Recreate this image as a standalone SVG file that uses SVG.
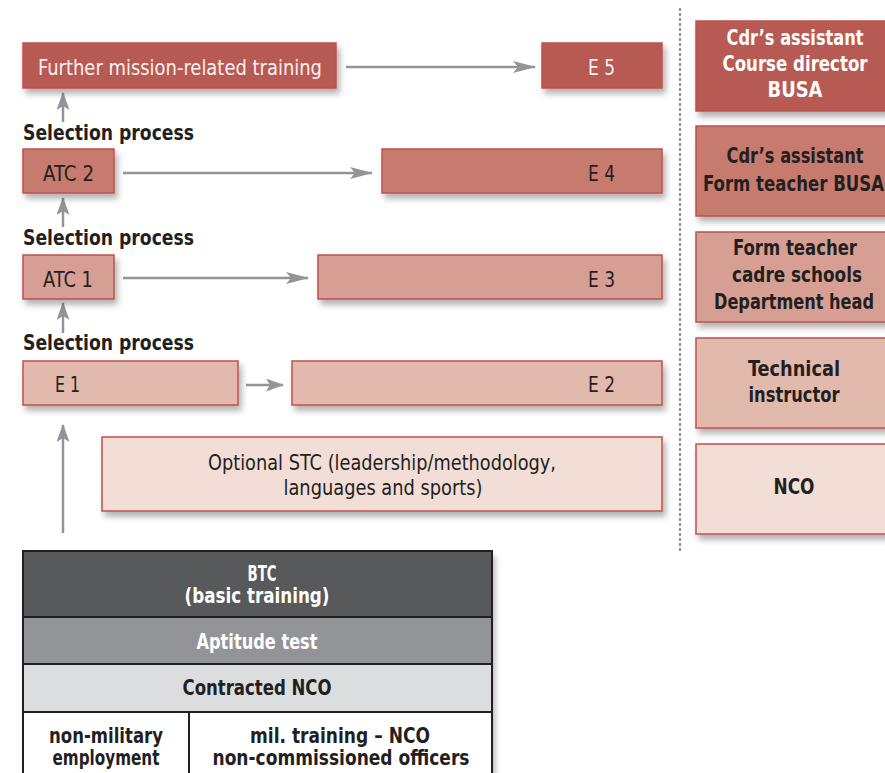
<svg xmlns="http://www.w3.org/2000/svg" width="885" height="773" viewBox="0 0 885 773">
<defs>
<style>
.t{font-family:"Liberation Sans Narrow","DejaVu Sans Condensed","Liberation Sans",sans-serif;}
.r{font-size:22px;font-weight:normal;}
.b{font-size:21px;font-weight:bold;}
.w{fill:#fbf1ee;}
.k{fill:#231f20;}
.wt{fill:#ffffff;}
.box{stroke:#c0504d;stroke-width:1.5;filter:url(#sh);}
.l5{fill:#b75a52;}
.l4{fill:#c77a6e;}
.l3{fill:#d79f93;}
.l2{fill:#e2b9ad;}
.l1{fill:#f2ddd7;}
.arr{stroke:#929497;stroke-width:2.5;fill:none;}
.tb{stroke:#231f20;stroke-width:2;}
</style>
<filter id="sh" x="-10%" y="-20%" width="130%" height="160%">
<feDropShadow dx="3" dy="5" stdDeviation="3" flood-color="#000" flood-opacity="0.3"/>
</filter>
<marker id="ah" viewBox="0 0 23 12" markerWidth="23" markerHeight="12" refX="22" refY="6" orient="auto" markerUnits="userSpaceOnUse">
<path d="M0,0 L23,6 L0,12 L5,6 z" fill="#929497"/>
</marker>
<marker id="as" viewBox="0 0 18 13" markerWidth="18" markerHeight="13" refX="17" refY="6.5" orient="auto" markerUnits="userSpaceOnUse">
<path d="M0,0 L18,6.5 L0,13 L4,6.5 z" fill="#929497"/>
</marker>
</defs>
<rect width="885" height="773" fill="#ffffff"/>

<g id="divider">
<line x1="680" y1="8" x2="680" y2="552" stroke="#6d6e71" stroke-width="1.5" stroke-dasharray="3 2"/>
</g>

<g id="connectors">
<line class="arr" x1="346" y1="67" x2="535" y2="67" marker-end="url(#ah)"/>
<line class="arr" x1="123" y1="173" x2="372" y2="173" marker-end="url(#ah)"/>
<line class="arr" x1="123" y1="278" x2="308" y2="278" marker-end="url(#ah)"/>
<line class="arr" x1="246" y1="385" x2="283" y2="385" marker-end="url(#as)"/>
<line class="arr" x1="63" y1="122" x2="63" y2="93" marker-end="url(#as)"/>
<line class="arr" x1="63" y1="227" x2="63" y2="198" marker-end="url(#as)"/>
<line class="arr" x1="63" y1="333" x2="63" y2="303" marker-end="url(#as)"/>
<line class="arr" x1="63" y1="533" x2="63" y2="425" marker-end="url(#as)"/>
</g>

<g id="labels">
<text class="t b k" x="23" y="140" textLength="171" lengthAdjust="spacingAndGlyphs">Selection process</text>
<text class="t b k" x="23" y="245" textLength="171" lengthAdjust="spacingAndGlyphs">Selection process</text>
<text class="t b k" x="23" y="350" textLength="171" lengthAdjust="spacingAndGlyphs">Selection process</text>
</g>

<g id="further">
<rect class="box l5" x="23" y="43" width="313" height="45"/>
<text class="t r w" x="38" y="75" textLength="284" lengthAdjust="spacingAndGlyphs">Further mission-related training</text>
</g>
<g id="e5">
<rect class="box l5" x="542" y="43" width="120" height="45"/>
<text class="t r w" x="588" y="75" textLength="27" lengthAdjust="spacingAndGlyphs">E 5</text>
</g>
<g id="atc2">
<rect class="box l4" x="23" y="149" width="91" height="44"/>
<text class="t r k" x="43" y="181" textLength="51" lengthAdjust="spacingAndGlyphs">ATC 2</text>
</g>
<g id="e4">
<rect class="box l4" x="382" y="149" width="280" height="44"/>
<text class="t r k" x="588" y="181" textLength="27" lengthAdjust="spacingAndGlyphs">E 4</text>
</g>
<g id="atc1">
<rect class="box l3" x="23" y="255" width="91" height="44"/>
<text class="t r k" x="43" y="287" textLength="50" lengthAdjust="spacingAndGlyphs">ATC 1</text>
</g>
<g id="e3">
<rect class="box l3" x="318" y="255" width="344" height="44"/>
<text class="t r k" x="588" y="287" textLength="27" lengthAdjust="spacingAndGlyphs">E 3</text>
</g>
<g id="e1">
<rect class="box l2" x="23" y="361" width="215" height="44"/>
<text class="t r k" x="55" y="392" textLength="25" lengthAdjust="spacingAndGlyphs">E 1</text>
</g>
<g id="e2">
<rect class="box l2" x="292" y="361" width="370" height="44"/>
<text class="t r k" x="588" y="392" textLength="27" lengthAdjust="spacingAndGlyphs">E 2</text>
</g>
<g id="stc">
<rect class="box l1" x="102" y="437" width="560" height="74"/>
<text class="t r k" x="382" y="470" text-anchor="middle" textLength="348" lengthAdjust="spacingAndGlyphs">Optional STC (leadership/methodology,</text>
<text class="t r k" x="383" y="495" text-anchor="middle" textLength="199" lengthAdjust="spacingAndGlyphs">languages and sports)</text>
</g>

<g id="role5">
<rect class="box l5" x="696" y="21" width="200" height="90"/>
<text class="t b wt" x="795" y="45" text-anchor="middle" textLength="137" lengthAdjust="spacingAndGlyphs">Cdr’s assistant</text>
<text class="t b wt" x="795" y="71" text-anchor="middle" textLength="145" lengthAdjust="spacingAndGlyphs">Course director</text>
<text class="t b wt" x="795" y="97" text-anchor="middle" textLength="55" lengthAdjust="spacingAndGlyphs">BUSA</text>
</g>
<g id="role4">
<rect class="box l4" x="696" y="126" width="200" height="90"/>
<text class="t b k" x="795" y="163" text-anchor="middle" textLength="137" lengthAdjust="spacingAndGlyphs">Cdr’s assistant</text>
<text class="t b k" x="703" y="191" textLength="181" lengthAdjust="spacingAndGlyphs">Form teacher BUSA</text>
</g>
<g id="role3">
<rect class="box l3" x="696" y="232" width="200" height="90"/>
<text class="t b k" x="795" y="255" text-anchor="middle" textLength="124" lengthAdjust="spacingAndGlyphs">Form teacher</text>
<text class="t b k" x="797" y="282" text-anchor="middle" textLength="130" lengthAdjust="spacingAndGlyphs">cadre schools</text>
<text class="t b k" x="794" y="309" text-anchor="middle" textLength="160" lengthAdjust="spacingAndGlyphs">Department head</text>
</g>
<g id="role2">
<rect class="box l2" x="696" y="338" width="200" height="90"/>
<text class="t b k" x="794" y="376" text-anchor="middle" textLength="92" lengthAdjust="spacingAndGlyphs">Technical</text>
<text class="t b k" x="794" y="402" text-anchor="middle" textLength="91" lengthAdjust="spacingAndGlyphs">instructor</text>
</g>
<g id="role1">
<rect class="box l1" x="696" y="444" width="200" height="90"/>
<text class="t b k" x="794" y="494" text-anchor="middle" textLength="41" lengthAdjust="spacingAndGlyphs">NCO</text>
</g>

<g id="table">
<rect x="23" y="551" width="469" height="240" fill="#ffffff" filter="url(#sh)"/>
<rect x="23" y="551" width="469" height="66" fill="#58595b"/>
<rect x="23" y="617" width="469" height="47" fill="#929497"/>
<rect x="23" y="664" width="469" height="48" fill="#dcddde"/>
<rect x="23" y="712" width="469" height="80" fill="#ffffff"/>
<rect class="tb" x="23" y="551" width="469" height="240" fill="none"/>
<line class="tb" x1="23" y1="617" x2="492" y2="617"/>
<line class="tb" x1="23" y1="664" x2="492" y2="664"/>
<line class="tb" x1="23" y1="712" x2="492" y2="712"/>
<line class="tb" x1="189" y1="712" x2="189" y2="773"/>
<text class="t b wt" x="262" y="581" text-anchor="middle" textLength="29" lengthAdjust="spacingAndGlyphs">BTC</text>
<text class="t b wt" x="257" y="603" text-anchor="middle" textLength="145" lengthAdjust="spacingAndGlyphs">(basic training)</text>
<text class="t b wt" x="257" y="649" text-anchor="middle" textLength="121" lengthAdjust="spacingAndGlyphs">Aptitude test</text>
<text class="t b k" x="257" y="695" text-anchor="middle" textLength="149" lengthAdjust="spacingAndGlyphs">Contracted NCO</text>
<text class="t b k" x="106" y="743" text-anchor="middle" textLength="114" lengthAdjust="spacingAndGlyphs">non-military</text>
<text class="t b k" x="106" y="765" text-anchor="middle" textLength="107" lengthAdjust="spacingAndGlyphs">employment</text>
<text class="t b k" x="340" y="743" text-anchor="middle" textLength="180" lengthAdjust="spacingAndGlyphs">mil. training – NCO</text>
<text class="t b k" x="341" y="765" text-anchor="middle" textLength="257" lengthAdjust="spacingAndGlyphs">non-commissioned officers</text>
</g>
</svg>
